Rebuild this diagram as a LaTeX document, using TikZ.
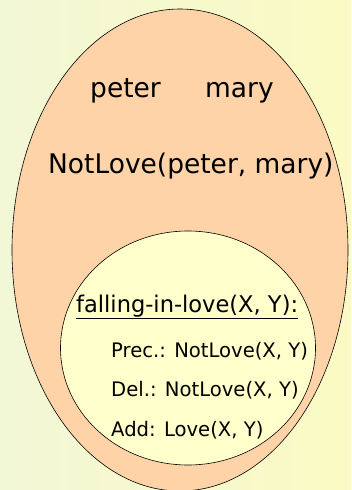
\documentclass[tikz,border=0pt]{standalone}
\usepackage{fontspec}
\setmainfont{DejaVu Sans}[FakeStretch=0.98]
\usetikzlibrary{shapes.geometric}
\definecolor{bgL}{HTML}{F2F7D6}
\definecolor{bgR}{HTML}{FBFAC4}
\definecolor{peach}{HTML}{FDD3A7}
\definecolor{pale}{HTML}{FFFFCC}
\begin{document}
\begin{tikzpicture}[x=1pt,y=-1pt,
  blob/.style={ellipse, draw=black, line width=0.6pt, inner sep=0pt},
  big/.style={anchor=base west, inner sep=0pt, font=\fontsize{27}{30}\selectfont},
  small/.style={anchor=base west, inner sep=0pt, font=\fontsize{20}{24}\selectfont}]
\useasboundingbox (0,0) rectangle (351,490);
\shade[left color=bgL, right color=bgR] (0,0) rectangle (351,490);
\node[blob, fill=peach, minimum width=336pt, minimum height=482pt] (outer) at (180,250) {};
\node[blob, fill=pale, minimum width=255pt, minimum height=234pt] (inner) at (188,348) {};
\node[big] (peter) at (90,97) {peter};
\node[big] (mary) at (205,97) {mary};
\node[big] (notlove) at (48,173) {NotLove(peter, mary)};
\node[small, font=\fontsize{23}{27}\selectfont] (title) at (76,312) {\underline{falling-in-love(X, Y):}};
\node[small] (prec) at (111,357) {Prec.: NotLove(X, Y)};
\node[small] (del) at (111,396) {Del.: NotLove(X, Y)};
\node[small] (add) at (111,436) {Add: Love(X, Y)};
\end{tikzpicture}
\end{document}
